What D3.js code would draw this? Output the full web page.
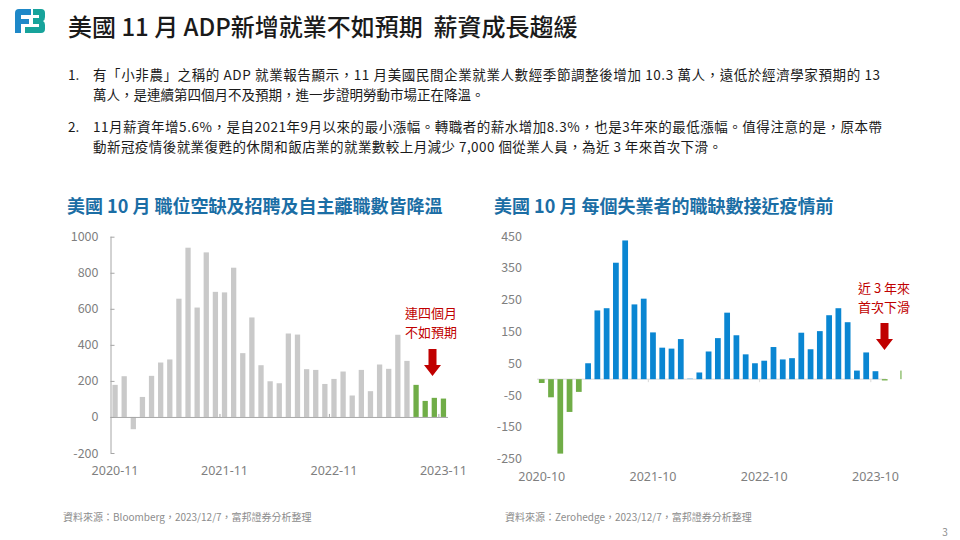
<!DOCTYPE html>
<meta charset="utf-8">
<style>
  body { margin: 0; background: #fff; }
  text { font-family: "Noto Sans CJK TC", "Noto Sans", sans-serif; white-space: pre; }
  .num { font-family: "Noto Sans", "DejaVu Sans", sans-serif; }
  .axis path, .axis line { stroke: #a6a6a6; }
</style>
<body>
<script src="https://d3js.org/d3.v7.min.js"></script>
<script>

var width = 960,
    height = 540;

// left chart: ADP monthly change (thousands)
var leftMonths = ["2020-11","2020-12","2021-01","2021-02","2021-03","2021-04","2021-05","2021-06","2021-07","2021-08",
  "2021-09","2021-10","2021-11","2021-12","2022-01","2022-02","2022-03","2022-04","2022-05","2022-06",
  "2022-07","2022-08","2022-09","2022-10","2022-11","2022-12","2023-01","2023-02","2023-03","2023-04",
  "2023-05","2023-06","2023-07","2023-08","2023-09","2023-10","2023-11"];
var leftValues = [178, 226, -68, 111, 228, 302, 319, 656, 939, 607,
  913, 694, 691, 828, 354, 552, 287, 198, 187, 463,
  457, 265, 261, 183, 211, 252, 119, 261, 143, 291,
  267, 456, 311, 178, 89, 106, 102];
var leftTicks = [-200, 0, 200, 400, 600, 800, 1000];
var leftLabels = ["2020-11", "2021-11", "2022-11", "2023-11"];

// right chart: monthly change
var rightMonths = ["2020-10","2020-11","2020-12","2021-01","2021-02","2021-03","2021-04","2021-05","2021-06","2021-07",
  "2021-08","2021-09","2021-10","2021-11","2021-12","2022-01","2022-02","2022-03","2022-04","2022-05",
  "2022-06","2022-07","2022-08","2022-09","2022-10","2022-11","2022-12","2023-01","2023-02","2023-03",
  "2023-04","2023-05","2023-06","2023-07","2023-08","2023-09","2023-10","2023-11","2023-12","2024-01"];
var rightValues = [-12, -57, -234, -103, -40, 50, 216, 223, 366, 436,
  235, 253, 147, 99, 96, 126, 3, 21, 87, 129,
  209, 138, 78, 50, 58, 101, 62, 66, 146, 94,
  151, 201, 223, 179, 27, 84, 25, -4, 0, 27];
var rightTicks = [-250, -150, -50, 50, 150, 250, 350, 450];
var rightLabels = ["2020-10", "2021-10", "2022-10", "2023-10"];

var bullets = [
  ["1.", "有「小非農」之稱的 ADP 就業報告顯示，11 月美國民間企業就業人數經季節調整後增加 10.3 萬人，遠低於經濟學家預期的 13",
         "萬人，是連續第四個月不及預期，進一步證明勞動市場正在降溫。"],
  ["2.", "11月薪資年增5.6%，是自2021年9月以來的最小漲幅。轉職者的薪水增加8.3%，也是3年來的最低漲幅。值得注意的是，原本帶",
         "動新冠疫情後就業復甦的休閒和飯店業的就業數較上月減少 7,000 個從業人員，為近 3 年來首次下滑。"]
];
// line widths as measured on the slide
var bulletWidths = [[787, null], [789, 629]];

var svg = d3.select("body").append("svg")
    .attr("width", width)
    .attr("height", height);

// logo
var logo = svg.append("g");
logo.append("path")
    .attr("d", "M19,9 H31 V15 H21 V19 H29 V24 H21 V33 H15 V13 Q15,9 19,9 Z")
    .attr("fill", "#1e88c8");
logo.append("path")
    .attr("d", "M33,9 H41 Q45,9 45,13 V17 Q45,20 43,21 Q45,22 45,25 V29 Q45,33 41,33 H25 V27 H39 V24 H33 V18 H39 V15 H33 Z")
    .attr("fill", "#17a39b");

// title
svg.append("text")
    .attr("x", 68)
    .attr("y", 25)
    .attr("dominant-baseline", "central")
    .attr("font-size", 24)
    .attr("font-weight", 500)
    .attr("fill", "#1a1a1a")
    .text("美國 11 月 ADP新增就業不如預期  薪資成長趨緩");

// bullet text
var by = [74, 126];
bullets.forEach(function(b, i) {
  svg.append("text").attr("x", 68).attr("y", by[i]).attr("dominant-baseline", "central")
      .attr("font-size", 13.5).attr("fill", "#1a1a1a").text(b[0]);
  [b[1], b[2]].forEach(function(line, j) {
    var t = svg.append("text").attr("x", 93).attr("y", by[i] + j * 20).attr("dominant-baseline", "central")
        .attr("font-size", 13.5).attr("fill", "#1a1a1a").text(line);
    if (bulletWidths[i][j]) t.attr("textLength", bulletWidths[i][j]).attr("lengthAdjust", "spacing");
  });
});

// chart titles
svg.append("text")
    .attr("x", 67).attr("y", 205)
    .attr("dominant-baseline", "central")
    .attr("font-size", 18).attr("font-weight", 700).attr("fill", "#1b6ea5")
    .text("美國 10 月 職位空缺及招聘及自主離職數皆降溫");
svg.append("text")
    .attr("x", 494).attr("y", 205)
    .attr("dominant-baseline", "central")
    .attr("font-size", 18).attr("font-weight", 700).attr("fill", "#1b6ea5")
    .text("美國 10 月 每個失業者的職缺數接近疫情前");

var plain = function(d) { return String(d); };

// ---- left chart ----
var xL = d3.scaleBand()
    .domain(leftMonths)
    .range([110.5, 448])
    .paddingInner(0.42)
    .paddingOuter(0.21);

var yL = d3.scaleLinear()
    .domain([-200, 1000])
    .range([453, 236.7]);

var gL = svg.append("g");

gL.selectAll("rect")
    .data(leftValues)
    .enter().append("rect")
      .attr("x", function(d, i) { return xL(leftMonths[i]); })
      .attr("width", xL.bandwidth())
      .attr("y", function(d) { return yL(Math.max(0, d)); })
      .attr("height", function(d) { return Math.abs(yL(d) - yL(0)); })
      .attr("fill", function(d, i) { return i >= leftValues.length - 4 ? "#70ad47" : "#c9c9c9"; });

gL.append("g")
    .attr("class", "axis num")
    .attr("transform", "translate(110.5,0)")
    .call(d3.axisLeft(yL).tickValues(leftTicks).tickFormat(plain).tickSize(-4).tickPadding(12))
    .call(function(g) {
      g.selectAll("text").attr("font-size", 12.5).attr("fill", "#7f7f7f").attr("font-family", "Noto Sans");
      g.select(".domain").attr("d", "M0.5,453V236.7");
    });

gL.append("line")
    .attr("x1", 110.5).attr("x2", 448)
    .attr("y1", yL(0) + 0.5).attr("y2", yL(0) + 0.5)
    .attr("stroke", "#a6a6a6");

// small ticks on zero line at year boundaries
gL.selectAll(".yt")
    .data(leftLabels.slice(1))
    .enter().append("line")
      .attr("x1", function(d) { return xL(d) - xL.step() * 0.21; })
      .attr("x2", function(d) { return xL(d) - xL.step() * 0.21; })
      .attr("y1", yL(0)).attr("y2", yL(0) - 3)
      .attr("stroke", "#a6a6a6");

gL.selectAll(".xl")
    .data(leftLabels)
    .enter().append("text")
      .attr("class", "num")
      .attr("x", function(d) { return xL(d) + xL.bandwidth() / 2; })
      .attr("y", 470)
      .attr("dominant-baseline", "central")
      .attr("text-anchor", "middle")
      .attr("font-size", 12.5)
      .attr("fill", "#7f7f7f")
      .text(function(d) { return d; });

// ---- right chart ----
var xR = d3.scaleBand()
    .domain(rightMonths)
    .range([537.1, 907.9])
    .paddingInner(0.38)
    .paddingOuter(0.19);

var yR = d3.scaleLinear()
    .domain([-250, 450])
    .range([458.7, 236]);

svg.append("clipPath")
    .attr("id", "clipR")
  .append("rect")
    .attr("x", 530).attr("y", 220).attr("width", 371.5).attr("height", 260);

var gR = svg.append("g");

gR.append("line")
    .attr("x1", 537).attr("x2", 886)
    .attr("y1", yR(0)).attr("y2", yR(0))
    .attr("stroke", "#d9d9d9");

gR.selectAll(".yt")
    .data(rightLabels.slice(1))
    .enter().append("line")
      .attr("x1", function(d) { return xR(d) - xR.step() * 0.19; })
      .attr("x2", function(d) { return xR(d) - xR.step() * 0.19; })
      .attr("y1", yR(0)).attr("y2", yR(0) + 3)
      .attr("stroke", "#d9d9d9");

gR.append("g")
    .attr("clip-path", "url(#clipR)")
  .selectAll("rect")
    .data(rightValues)
    .enter().append("rect")
      .attr("x", function(d, i) { return xR(rightMonths[i]); })
      .attr("width", xR.bandwidth())
      .attr("y", function(d) { return yR(Math.max(0, d)); })
      .attr("height", function(d) { return Math.abs(yR(d) - yR(0)); })
      .attr("fill", function(d, i) {
        if (d < 0 || i >= rightValues.length - 3) return "#70ad47";
        if (d < 10) return "#9dcbea";
        return "#0a86d2";
      });

gR.append("g")
    .attr("class", "axis num")
    .attr("transform", "translate(533,0)")
    .call(d3.axisLeft(yR).tickValues(rightTicks).tickFormat(plain).tickSize(0).tickPadding(11))
    .call(function(g) {
      g.select(".domain").remove();
      g.selectAll("text").attr("font-size", 12.5).attr("fill", "#7f7f7f").attr("font-family", "Noto Sans");
    });

gR.selectAll(".xl")
    .data(rightLabels)
    .enter().append("text")
      .attr("class", "num")
      .attr("x", function(d) { return xR(d) + xR.bandwidth() / 2; })
      .attr("y", 476)
      .attr("dominant-baseline", "central")
      .attr("text-anchor", "middle")
      .attr("font-size", 12.5)
      .attr("fill", "#7f7f7f")
      .text(function(d) { return d; });

// annotations
var red = "#c00000";
function note(x, y, lines) {
  lines.forEach(function(s, i) {
    svg.append("text")
        .attr("x", x).attr("y", y + i * 19)
        .attr("dominant-baseline", "central")
        .attr("text-anchor", "middle")
        .attr("font-size", 13).attr("fill", red)
        .text(s);
  });
}
function arrow(cx, top, bottom) {
  var head = 11;
  svg.append("path")
      .attr("d", "M" + (cx - 4) + "," + top + "H" + (cx + 4) + "V" + (bottom - head) +
            "H" + (cx + 8.5) + "L" + cx + "," + bottom + "L" + (cx - 8.5) + "," + (bottom - head) +
            "H" + (cx - 4) + "Z")
      .attr("fill", red);
}
note(431, 312, ["連四個月", "不如預期"]);
arrow(432.5, 349, 376);
note(884, 287, ["近 3 年來", "首次下滑"]);
arrow(884.5, 323, 350);

// sources
svg.append("text")
    .attr("x", 63).attr("y", 516).attr("dominant-baseline", "central")
    .attr("font-size", 10).attr("fill", "#8c8c8c")
    .text("資料來源：Bloomberg，2023/12/7，富邦證券分析整理");
svg.append("text")
    .attr("x", 505).attr("y", 516).attr("dominant-baseline", "central")
    .attr("font-size", 10).attr("fill", "#8c8c8c")
    .text("資料來源：Zerohedge，2023/12/7，富邦證券分析整理");
svg.append("text")
    .attr("x", 945).attr("y", 531).attr("dominant-baseline", "central")
    .attr("text-anchor", "middle")
    .attr("font-size", 10).attr("fill", "#8c8c8c")
    .text("3");

</script>
</body>
